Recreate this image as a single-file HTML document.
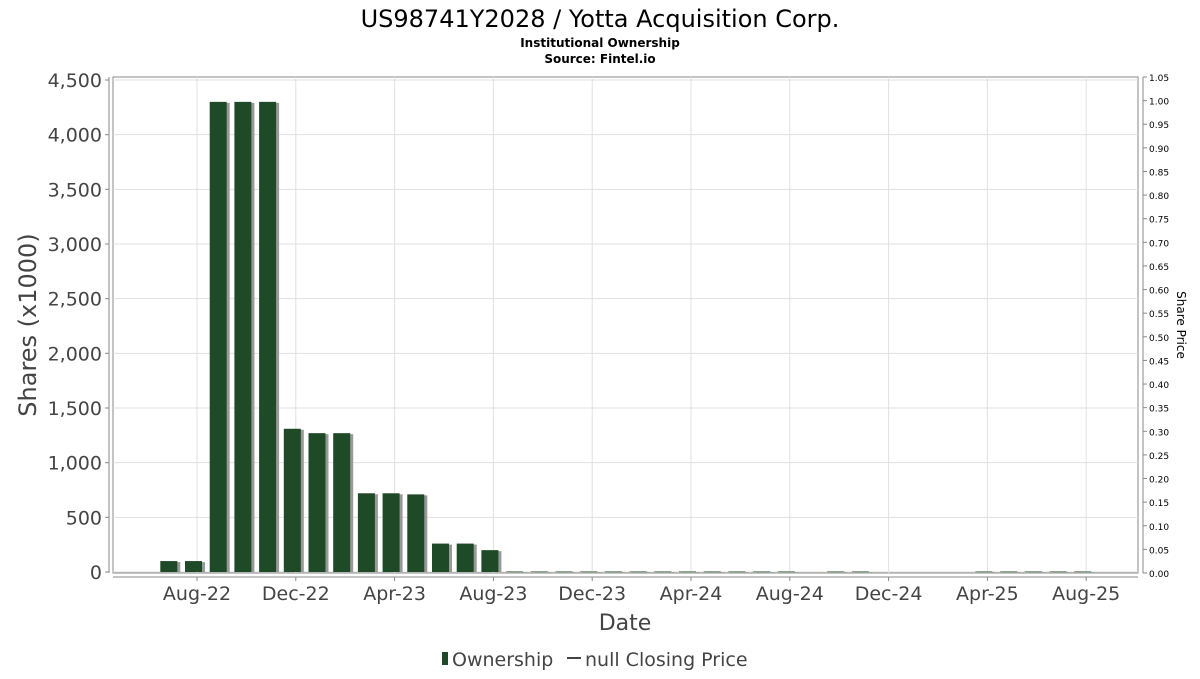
<!DOCTYPE html>
<html><head><meta charset="utf-8"><style>
body{margin:0;background:#fff;font-family:"DejaVu Sans","Liberation Sans",sans-serif;}
svg text{font-family:"DejaVu Sans","Liberation Sans",sans-serif;}
</style></head><body>
<svg id="chart" width="1200" height="675" xmlns="http://www.w3.org/2000/svg">
<text x="600" y="27" text-anchor="middle" font-size="24" fill="#000">US98741Y2028 / Yotta Acquisition Corp.</text>
<text x="600" y="47" text-anchor="middle" font-size="12" font-weight="bold" fill="#000">Institutional Ownership</text>
<text x="600" y="63" text-anchor="middle" font-size="12" font-weight="bold" fill="#000">Source: Fintel.io</text>
<rect x="113" y="77" width="1025" height="496" fill="#fff" stroke="#888"/>
<g id="grid"></g>
<g id="bars"></g>
<g id="axes"></g>
<text transform="translate(36,325) rotate(-90)" text-anchor="middle" font-size="24" fill="#444">Shares (x1000)</text>
<text transform="translate(1177,325) rotate(90)" text-anchor="middle" font-size="12" fill="#000">Share Price</text>
<text x="625" y="630" text-anchor="middle" font-size="22" fill="#444">Date</text>
<g>
<rect x="442" y="652" width="6" height="13" fill="#1f4a28"/>
<text x="452" y="666" font-size="19" fill="#444">Ownership</text>
<line x1="567" y1="658" x2="581" y2="658" stroke="#444" stroke-width="2"/>
<text x="585" y="666" font-size="19" fill="#444">null Closing Price</text>
</g>
</svg>
<script>
const months = [0,1,2,3,4,5,6,7,8,9,10,11,12,13,14,15,16,17,18,19,20,21,22,23,24,25,27,28,33,34,35,36,37];
const shares = [100,100,4300,4300,4300,1310,1270,1270,720,720,710,260,260,200,8,8,8,8,8,8,8,8,8,8,8,8,8,8,8,8,8,8,8];
const yTicks = [0,500,1000,1500,2000,2500,3000,3500,4000,4500];
const y2Ticks = ["0.00","0.05","0.10","0.15","0.20","0.25","0.30","0.35","0.40","0.45","0.50","0.55","0.60","0.65","0.70","0.75","0.80","0.85","0.90","0.95","1.00","1.05"];
const xLabels = ["Aug-22","Dec-22","Apr-23","Aug-23","Dec-23","Apr-24","Aug-24","Dec-24","Apr-25","Aug-25"];
const xLabelMonths = [1,5,9,13,17,21,25,29,33,37];

const NS="http://www.w3.org/2000/svg";
const x = m => 172.3 + 24.7*m;
const y = v => 572 - v*(492/4500);
const y2 = p => 573 - p*(496/1.05);
function mk(tag, attrs, parent, txt){const e=document.createElementNS(NS,tag);for(const k in attrs)e.setAttribute(k,attrs[k]);if(txt!==undefined)e.textContent=txt;parent.appendChild(e);return e;}
const grid=document.getElementById('grid'), bars=document.getElementById('bars'), axes=document.getElementById('axes');
yTicks.forEach(v=>{
  const l=mk('line',{x1:113,x2:1138,y1:y(v),y2:y(v),stroke:'#e0e0e0'},grid);
  
  
  const t=mk('line',{x1:105,x2:109,y1:y(v),y2:y(v),stroke:'#888'},axes);
  
  
  const lb=mk('text',{x:102,y:y(v)+7,'text-anchor':'end','font-size':19,fill:'#444'},axes,v.toLocaleString('en-US'));
  
  
});
xLabelMonths.forEach((m,i)=>{
  const l=mk('line',{x1:x(m),x2:x(m),y1:77,y2:573,stroke:'#e0e0e0'},grid);
  
  
  const t=mk('line',{x1:x(m),x2:x(m),y1:577,y2:581,stroke:'#888'},axes);
  
  
  const lb=mk('text',{x:x(m),y:600,'text-anchor':'middle','font-size':19,fill:'#444'},axes,xLabels[i]);
  
  
});
y2Ticks.forEach(p=>{
  const t=mk('line',{x1:1143,x2:1147,y1:y2(+p),y2:y2(+p),stroke:'#888'},axes);
  
  
  const lb=mk('text',{x:1149,y:y2(+p)+4,'font-size':9,fill:'#000'},axes,p);
  
  
});
const la=mk('line',{x1:109,x2:109,y1:77,y2:573,stroke:'#888'},axes);


const lr=mk('line',{x1:1143,x2:1143,y1:77,y2:573,stroke:'#888'},axes);


const lx=mk('line',{x1:113,x2:1138,y1:577,y2:577,stroke:'#888'},axes);


months.forEach((m,i)=>{
  const bx=x(m)-12, top=y(shares[i]), h=572-top;
  const s=mk('rect',{x:bx+3,y:top+1,width:17,height:Math.max(h-1,1),fill:'#999'},bars);
  
  
  const b=mk('rect',{x:bx,y:top,width:17,height:Math.max(h,1),fill:shares[i]<20?'#7a9a80':'#1f4a28'},bars);
  
  
});
</script>
</body></html>
